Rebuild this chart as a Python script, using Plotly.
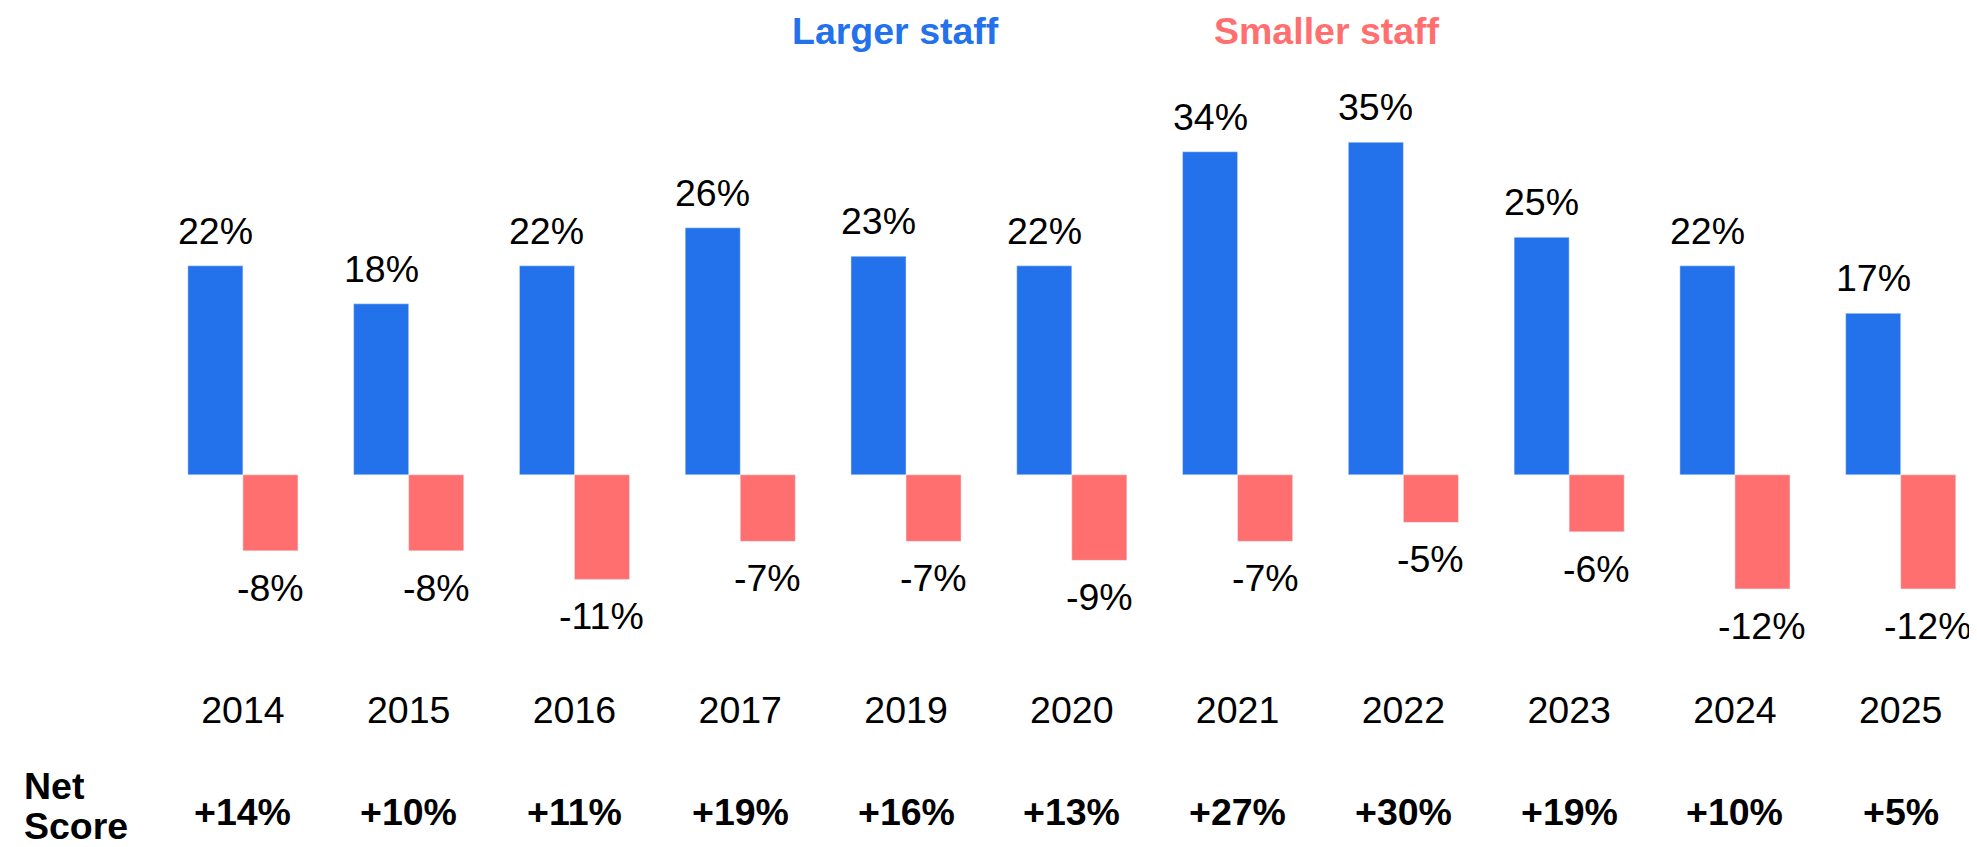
import plotly.graph_objects as go

years = ["2014", "2015", "2016", "2017", "2019", "2020", "2021", "2022", "2023", "2024", "2025"]
larger = [22, 18, 22, 26, 23, 22, 34, 35, 25, 22, 17]
smaller = [-8, -8, -11, -7, -7, -9, -7, -5, -6, -12, -12]
net_score = ["+14%", "+10%", "+11%", "+19%", "+16%", "+13%", "+27%", "+30%", "+19%", "+10%", "+5%"]

BLUE = "#2371EB"
RED = "#FF6F6F"
FONT = "Arial, Liberation Sans, sans-serif"
FS = 37.5

L, R, T, B = 94, 13, 44, 173
W, H = 1977, 847
PW = W - L - R

fig = go.Figure()
fig.add_trace(go.Bar(x=years, y=larger, name="Larger staff", marker_color=BLUE))
fig.add_trace(go.Bar(x=years, y=smaller, name="Smaller staff", marker_color=RED))

# value labels sit above / below each bar, shifted onto their half of the group
# (category index used for x: numeric-looking strings confuse annotation placement)
for i, v in enumerate(larger):
    fig.add_annotation(x=i, y=v, text=f"{v}%", showarrow=False, xshift=-27.5,
                       yshift=35, yanchor="middle", font=dict(size=FS, color="black"))
for i, v in enumerate(smaller):
    fig.add_annotation(x=i, y=v, text=f"{v}%", showarrow=False, xshift=27.5,
                       yshift=-37, yanchor="middle", font=dict(size=FS, color="black"))

# net score row
for i, s in enumerate(net_score):
    fig.add_annotation(x=i, y=0, yref="paper", text=f"<b>{s}</b>", showarrow=False,
                       yshift=-130, yanchor="middle", font=dict(size=FS, color="black"))
for word, dy in [("Net", -104), ("Score", -144)]:
    fig.add_annotation(x=0, y=0, xref="paper", yref="paper", text=f"<b>{word}</b>",
                       showarrow=False, xanchor="left", yanchor="middle", borderpad=0,
                       xshift=-(L - 15), yshift=dy, font=dict(size=FS, color="black"))

# legend as coloured text
fig.add_annotation(x=(887 - L) / PW, y=1, xref="paper", yref="paper", yshift=21,
                   yanchor="middle", text="<b>Larger staff</b>", showarrow=False,
                   font=dict(size=FS, color=BLUE))
fig.add_annotation(x=(1319 - L) / PW, y=1, xref="paper", yref="paper", yshift=21,
                   yanchor="middle", text="<b>Smaller staff</b>", showarrow=False,
                   font=dict(size=FS, color=RED))

fig.update_layout(
    width=W, height=H,
    margin=dict(l=L, r=R, t=T, b=B),
    barmode="group", bargap=0.336, bargroupgap=0,
    showlegend=False,
    plot_bgcolor="white", paper_bgcolor="white",
    font=dict(family=FONT, size=FS, color="black"),
)
fig.update_xaxes(type="category", range=[-0.85, 10.43], showgrid=False, showline=False,
                 ticks="", ticklabelstandoff=2, tickfont=dict(size=FS, color="black"))
fig.update_yaxes(range=[-21.8, 44.5], visible=False, showgrid=False, zeroline=False)

fig.write_html("out.html")
